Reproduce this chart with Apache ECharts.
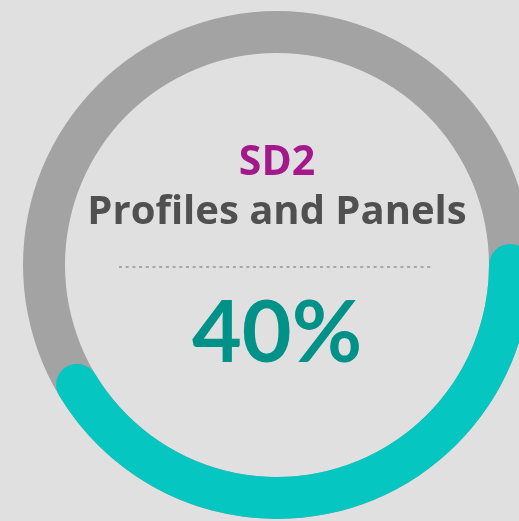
<!DOCTYPE html>
<html>
<head>
<meta charset="utf-8">
<script src="https://cdn.jsdelivr.net/npm/echarts@6/dist/echarts.min.js"></script>
<style>
  html, body { margin: 0; padding: 0; background: #e0e0e0; }
  #chart { width: 519px; height: 521px; }
</style>
</head>
<body>
<div id="chart"></div>
<script>
// 数据
const code = 'SD2';
const label = 'Profiles and Panels';
const progress = [40];
// 原图的弧比40%略长，用稍小的max对齐
const maxValue = 96.6;

const teal = '#05c6c0';
const ringGray = '#a3a3a3';

const chart = echarts.init(document.getElementById('chart'));

const option = {
  backgroundColor: '#e0e0e0',
  animation: false,
  graphic: [
    {
      type: 'text',
      x: 277,
      y: 143,
      style: {
        text: code,
        font: 'bold 41px "Open Sans"',
        fill: '#a3198c',
        align: 'center'
      }
    },
    {
      type: 'text',
      x: 277,
      y: 193,
      style: {
        text: label,
        font: 'bold 40px "Open Sans"',
        fill: '#505050',
        align: 'center'
      }
    },
    {
      type: 'line',
      shape: {x1: 119, y1: 267, x2: 432, y2: 267},
      style: {stroke: '#6e6e6e', lineWidth: 1.2, lineDash: [3, 3.7]}
    }
  ],
  series: [
    {
      type: 'gauge',
      center: [277, 265],
      radius: 254,
      startAngle: 0,
      endAngle: -360,
      min: 0,
      max: maxValue,
      axisLine: {
        lineStyle: {width: 42, color: [[1, ringGray]]}
      },
      progress: {
        show: true,
        width: 42,
        roundCap: true,
        itemStyle: {color: teal}
      },
      pointer: {show: false},
      axisTick: {show: false},
      splitLine: {show: false},
      axisLabel: {show: false},
      anchor: {show: false},
      title: {show: false},
      detail: {
        offsetCenter: [0, 69],
        formatter: '{value}%',
        fontFamily: 'Lato',
        fontWeight: 'bold',
        fontSize: 86,
        color: '#009189'
      },
      data: progress.map(v => ({value: v}))
    }
  ]
};

chart.setOption(option);
</script>
</body>
</html>
